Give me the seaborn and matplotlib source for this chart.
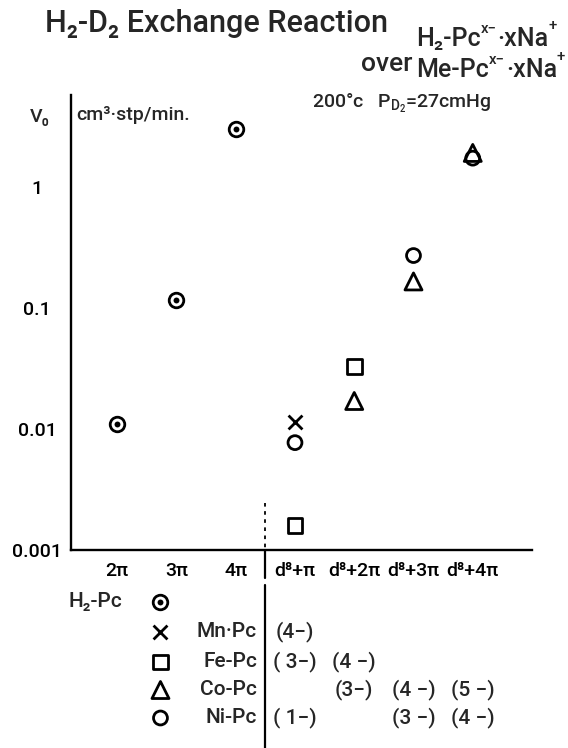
import numpy as np
import pandas as pd
import matplotlib
matplotlib.use("Agg")
import matplotlib.pyplot as plt
import seaborn as sns

# ---------------- data ----------------
categories = ["2π", "3π", "4π", "d⁸+π", "d⁸+2π", "d⁸+3π", "d⁸+4π"]

h2pc_cat = ["2π", "3π", "4π"]
h2pc_v = [0.011, 0.115, 3.0]
mn_cat = ["d⁸+π"]
mn_v = [0.0115]
fe_cat = ["d⁸+π", "d⁸+2π"]
fe_v = [0.0016, 0.033]
co_cat = ["d⁸+2π", "d⁸+3π", "d⁸+4π"]
co_v = [0.017, 0.165, 1.9]
ni_cat = ["d⁸+π", "d⁸+3π", "d⁸+4π"]
ni_v = [0.0077, 0.27, 1.72]

mn_charge = ["(4−)"]
fe_charge = ["( 3−)", "(4 −)"]
co_charge = ["(3−)", "(4 −)", "(5 −)"]
ni_charge = ["( 1−)", "(3 −)", "(4 −)"]

series_names = ["Mn·Pc", "Fe-Pc", "Co-Pc", "Ni-Pc"]

ytick_vals = [0.001, 0.01, 0.1, 1]
ytick_labels = ["0.001", "0.01", "0.1", "1"]

# ---------------- style ----------------
sns.set_style("white")
plt.rcParams["font.family"] = ["Roboto", "DejaVu Sans"]
plt.rcParams["font.weight"] = "medium"
plt.rcParams["mathtext.fontset"] = "custom"
plt.rcParams["mathtext.rm"] = "Roboto:medium"
plt.rcParams["mathtext.it"] = "Roboto:medium"

W, H = 568, 748
fig = plt.figure(figsize=(W / 100, H / 100), dpi=100)
renderer = fig.canvas.get_renderer()

def fx(px):
    return px / W

def fy(py):
    return 1 - py / H

pos = {c: i + 1 for i, c in enumerate(categories)}
XL = (0.22, 8.0)

ax = fig.add_axes([fx(71), fy(550), fx(532) - fx(71), fy(95) - fy(550)])

def frame(cats, vals, name):
    return pd.DataFrame({"x": [pos[c] for c in cats], "v": vals, "s": name})

lw = 2.0
d_h2 = frame(h2pc_cat, h2pc_v, "H2")
d_mn = frame(mn_cat, mn_v, "Mn")
d_fe = frame(fe_cat, fe_v, "Fe")
d_co = frame(co_cat, co_v, "Co")
d_ni = frame(ni_cat, ni_v, "Ni")

def draw_markers(a, df, kind):
    if kind == "H2":
        sns.scatterplot(data=df, x="x", y="v", ax=a, marker="o", s=110,
                        facecolor="white", edgecolor="black", linewidth=lw, legend=False, clip_on=False, zorder=3)
        sns.scatterplot(data=df, x="x", y="v", ax=a, marker="o", s=18,
                        color="black", linewidth=0, legend=False, clip_on=False, zorder=4)
    elif kind == "Mn":
        sns.scatterplot(data=df, x="x", y="v", ax=a, marker="x", s=100,
                        color="black", linewidth=lw, legend=False, clip_on=False, zorder=3)
    elif kind == "Fe":
        sns.scatterplot(data=df, x="x", y="v", ax=a, marker="s", s=115,
                        facecolor="none", edgecolor="black", linewidth=lw, legend=False, clip_on=False, zorder=3)
    elif kind == "Co":
        sns.scatterplot(data=df, x="x", y="v", ax=a, marker="^", s=150,
                        facecolor="none", edgecolor="black", linewidth=lw, legend=False, clip_on=False, zorder=3)
    elif kind == "Ni":
        sns.scatterplot(data=df, x="x", y="v", ax=a, marker="o", s=100,
                        facecolor="none", edgecolor="black", linewidth=lw, legend=False, clip_on=False, zorder=3)

for d, k in [(d_h2, "H2"), (d_ni, "Ni"), (d_co, "Co"), (d_fe, "Fe"), (d_mn, "Mn")]:
    draw_markers(ax, d, k)

ax.set_yscale("log")
ax.set_ylim(0.001, 10 ** 0.757)
ax.set_xlim(*XL)
ax.set_xticks([pos[c] for c in categories], categories)
ax.set_yticks(ytick_vals, ytick_labels)
ax.minorticks_off()
ax.set_xlabel("")
ax.set_ylabel("")
for sp in ["top", "right"]:
    ax.spines[sp].set_visible(False)
for sp in ["left", "bottom"]:
    ax.spines[sp].set_linewidth(1.7)
    ax.spines[sp].set_color("black")
ax.tick_params(axis="x", direction="in", length=4, width=1.7, pad=9, labelsize=14, colors="black")
ax.tick_params(axis="y", direction="in", length=4, width=1.7, pad=24.5, labelsize=14, colors="black")
for lab in ax.get_yticklabels():
    lab.set_horizontalalignment("center")

# dashed divider inside plot
ax.plot([3.5, 3.5], [0.00245, 0.001], color="black", lw=1.3, ls=(0, (2, 2.5)), clip_on=False)

# ---------------- table below ----------------
ax2 = fig.add_axes([fx(71), fy(748), fx(532) - fx(71), fy(550) - fy(748)])
ax2.set_xlim(*XL)
ax2.set_ylim(748, 550)
ax2.axis("off")

ax2.plot([3.5, 3.5], [550, 578], color="black", lw=1.6)
ax2.plot([3.5, 3.5], [585, 748], color="black", lw=1.6)

mark_x = 1.73
name_x = 3.36
row_y = [632, 662, 690, 718]

ax2.text(0.17, 602, "H₂-Pc", ha="left", va="center", fontsize=15)
draw_markers(ax2, pd.DataFrame({"x": [mark_x], "v": [602]}), "H2")

kinds = ["Mn", "Fe", "Co", "Ni"]
cats_list = [mn_cat, fe_cat, co_cat, ni_cat]
charges = [mn_charge, fe_charge, co_charge, ni_charge]
for k, nm, ry, cs, ch in zip(kinds, series_names, row_y, cats_list, charges):
    draw_markers(ax2, pd.DataFrame({"x": [mark_x], "v": [ry]}), k)
    ax2.text(name_x, ry, nm, ha="right", va="center", fontsize=15)
    for c, t in zip(cs, ch):
        ax2.text(pos[c], ry, t, ha="center", va="center", fontsize=15)

# ---------------- header texts ----------------
fig.text(fx(45), fy(24), "H₂-D₂ Exchange Reaction", ha="left", va="center", fontsize=22)
fig.text(fx(412), fy(64), "over", ha="right", va="center", fontsize=19)


def formula(x0, base_y, parts, fs=18):
    """parts: list of (text, kind, dy); 'sup' pieces are smaller and raised."""
    cur = x0
    for s, kind, dy in parts:
        size = fs if kind == "n" else fs * 0.6
        t = fig.text(fx(cur), fy(base_y - dy), s, ha="left", va="baseline", fontsize=size)
        cur += t.get_window_extent(renderer).width + (0 if kind == "n" else 1)


formula(416, 46, [("H₂-Pc", "n", 0), ("x−", "sup", 13), ("·xNa", "n", 0), ("+", "sup", 16)])
formula(416, 77, [("Me-Pc", "n", 0), ("x−", "sup", 13), ("·xNa", "n", 0), ("+", "sup", 16)])

fig.text(fx(312), fy(103), r"200°c   P$_{\mathregular{D}_2}$=27cmHg", ha="left", va="center", fontsize=14)
fig.text(fx(30), fy(117), "V₀", ha="left", va="center", fontsize=14)
fig.text(fx(76), fy(115), "cm³·stp/min.", ha="left", va="center", fontsize=14)

fig.savefig("out.png", dpi=100)
